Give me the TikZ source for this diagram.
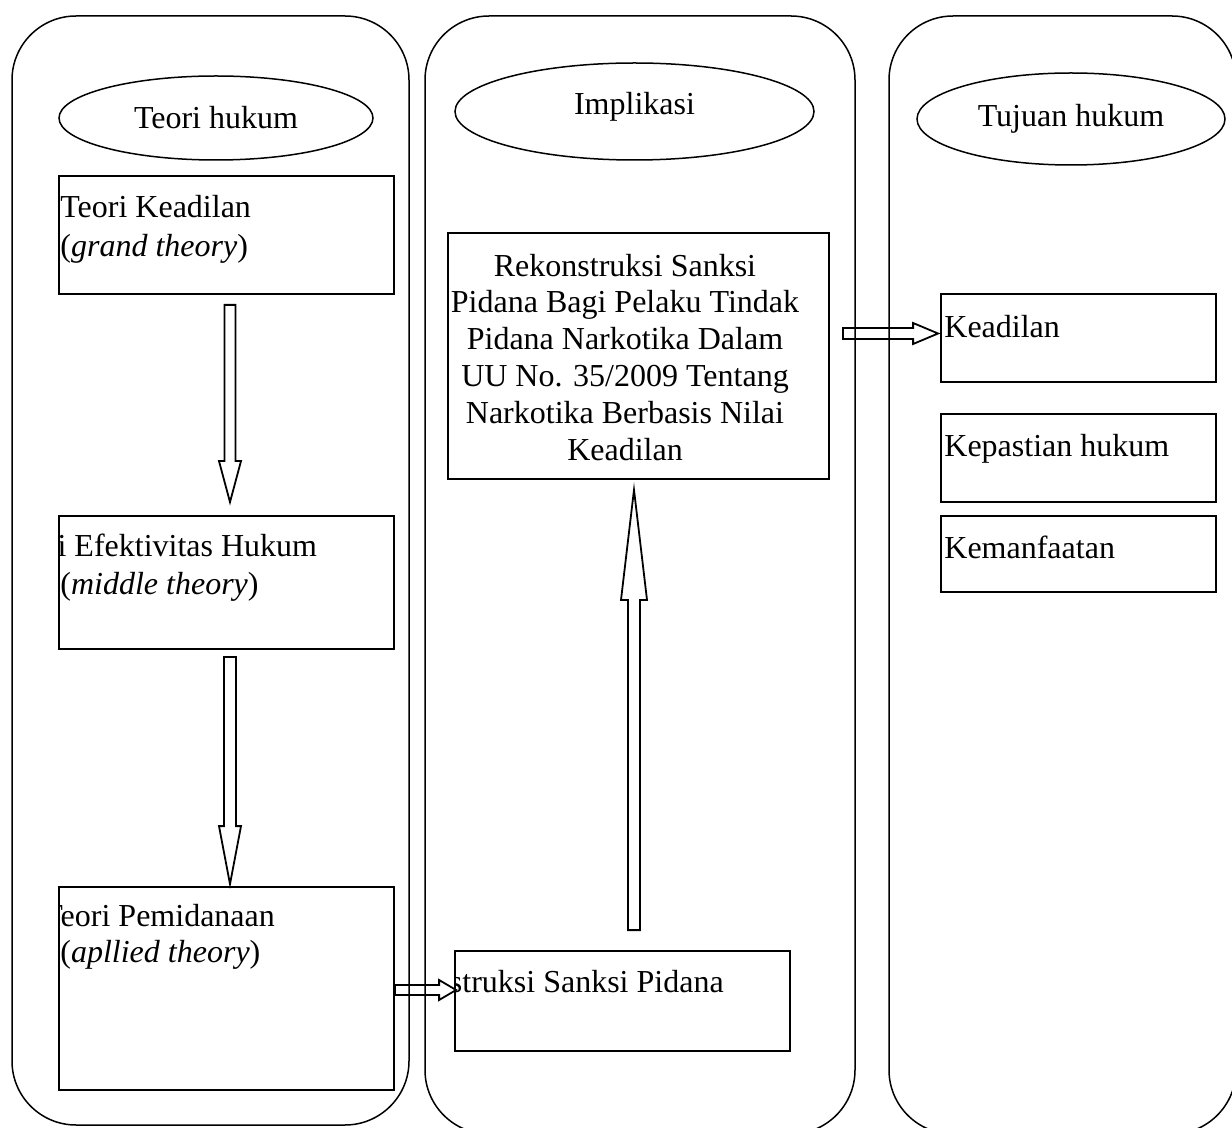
\documentclass[tikz,border=0pt]{standalone}
\usepackage{fontspec}
\setmainfont{Liberation Serif}
\usetikzlibrary{positioning,calc,shapes.geometric}
\tikzset{
	     lane/.style = {draw, line width=0.75pt, rounded corners=32pt},
	  heading/.style = {draw, ellipse, line width=0.75pt, inner sep=0pt},
	  textbox/.style = {draw, rectangle, line width=0.9pt, inner sep=0pt},
	      txt/.style = {anchor=base west, inner sep=0pt},
	arrowline/.style = {line width=0.9pt, line join=miter}
}
\newcommand\hollowarrow[5]{%
	\coordinate (tip-base) at ($(#2)!#5!(#1)$);
	\draw[arrowline] ($(#1)!#3!90:(#2)$) -- ($(tip-base)!#3!90:(#2)$) -- ($(tip-base)!#4!90:(#2)$)
		-- (#2) -- ($(tip-base)!#4!-90:(#2)$) -- ($(tip-base)!#3!-90:(#2)$) -- ($(#1)!#3!-90:(#2)$) -- cycle;
}

\begin{document}
\begin{tikzpicture}[x=0.5pt, y=-0.5pt, every node/.style={font=\fontsize{16pt}{19pt}\selectfont}]
		\useasboundingbox (0,0) rectangle (1232,1128);
		\clip (0,0) rectangle (1232,1128);
		\draw[lane] (12,16)  rectangle (409,1125);
		\draw[lane] (425,16) rectangle (855,1134);
		\draw[lane] (889,16) rectangle (1236,1134);

		\node[heading, minimum width=157pt,   minimum height=42pt]   (teori)     at (216,118)    {Teori hukum};
		\node[heading, minimum width=179.5pt, minimum height=48.5pt, text depth=8.5pt] (implikasi) at (634.5,111.5) {Implikasi};
		\node[heading, minimum width=154pt,   minimum height=46pt]   (tujuan)    at (1071,119)   {Tujuan hukum};

		\node[textbox, minimum width=167.5pt, minimum height=59pt]    (grand)   at (226.5,235)   {};
		\node[textbox, minimum width=167.5pt, minimum height=66.5pt]  (middle)  at (226.5,582.5) {};
		\node[textbox, minimum width=167.5pt, minimum height=101.5pt] (applied) at (226.5,988.5) {};
		\node[textbox, minimum width=190.5pt, minimum height=123pt]   (rekon)   at (638.5,356)   {};
		\node[textbox, minimum width=167.5pt, minimum height=50pt]    (sanksi)  at (622.5,1001)  {};
		\node[textbox, minimum width=137.5pt, minimum height=44pt]    (adil)    at (1078.5,338)  {};
		\node[textbox, minimum width=137.5pt, minimum height=44pt]    (pasti)   at (1078.5,458)  {};
		\node[textbox, minimum width=137.5pt, minimum height=38pt]    (manfaat) at (1078.5,554)  {};

		\node[txt] (grand-1)  at (60,218) {Teori Keadilan};
		\node[txt] (grand-2)  at (60,257) {(\textit{grand theory})};
		\node[txt] (middle-2) at (60,595) {(\textit{middle theory})};
		\node[txt] (applied-2) at (60,962) {(\textit{apllied theory})};
		\begin{scope}
			\clip (middle.south west) rectangle (middle.north east);
			\node[txt] (middle-1) at (-1,557) {Teori Efektivitas Hukum};
		\end{scope}
		\begin{scope}
			\clip (applied.south west) rectangle (applied.north east);
			\node[txt] (applied-1) at (43,926) {Teori Pemidanaan};
		\end{scope}
		\begin{scope}
			\clip (sanksi.south west) rectangle (sanksi.north east);
			\node[txt] (sanksi-1) at (366,992) {Rekonstruksi Sanksi Pidana};
		\end{scope}
		\node[txt, anchor=base, align=center, font=\fontsize{16pt}{18.5pt}\selectfont] (rekon-1) at (625,461)
			{Rekonstruksi Sanksi\\Pidana Bagi Pelaku Tindak\\Pidana Narkotika Dalam\\UU No. 35/2009 Tentang\\Narkotika Berbasis Nilai\\Keadilan};
		\node[txt] (adil-1)    at (944,338) {Keadilan};
		\node[txt] (pasti-1)   at (944,457) {Kepastian hukum};
		\node[txt] (manfaat-1) at (944,559) {Kemanfaatan};

		\coordinate (d1a) at ($(grand.south)+(3.5,10)$);
		\coordinate (d1b) at ($(middle.north)+(3.5,-13)$);
		\coordinate (d2a) at ($(middle.south)+(3.5,7)$);
		\coordinate (d2b) at ($(applied.north)+(3.5,-2)$);
		\coordinate (r1a) at ($(applied.east)+(0,1.5)$);
		\coordinate (r1b) at ($(sanksi.west)+(2,-11)$);
		\coordinate (u1a) at ($(sanksi.north)+(11.5,-20)$);
		\coordinate (u1b) at ($(rekon.south)+(-4.5,10)$);
		\coordinate (r2a) at ($(rekon.east)+(13,-22.5)$);
		\coordinate (r2b) at ($(adil.west)+(-2,-4.5)$);
		\hollowarrow{d1a}{d1b}{2.75pt}{5.5pt}{20.5pt}
		\hollowarrow{d2a}{d2b}{3pt}{5.5pt}{29pt}
		\hollowarrow{r1a}{r1b}{2.5pt}{5pt}{8.5pt}
		\hollowarrow{u1a}{u1b}{3pt}{6.5pt}{55pt}
		\hollowarrow{r2a}{r2b}{2.75pt}{5.25pt}{12.5pt}
	\end{tikzpicture}
\end{document}
